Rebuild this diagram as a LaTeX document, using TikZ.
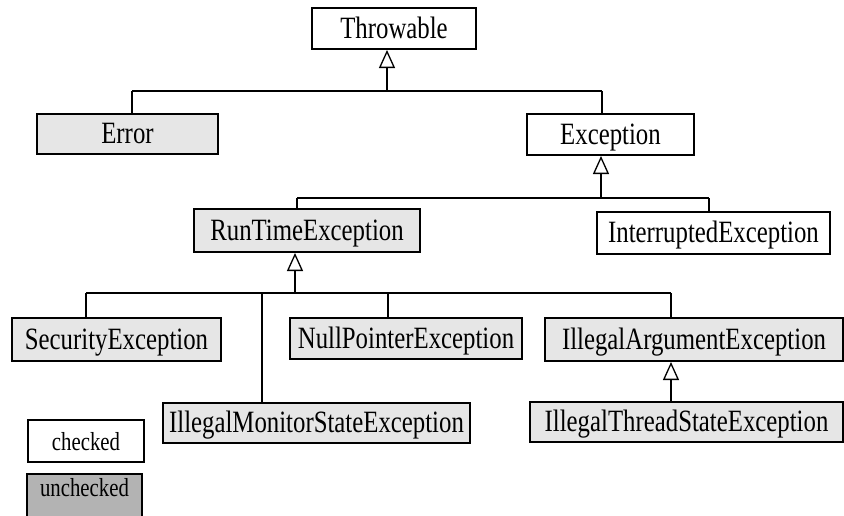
\documentclass[tikz,border=0pt]{standalone}
\usepackage{fontspec}
\setmainfont[FakeStretch=0.8]{Liberation Serif}
\usepackage{tikz}
\usetikzlibrary{arrows.meta}
\definecolor{lightgrey}{HTML}{E6E6E6}
\definecolor{midgrey}{HTML}{B3B3B3}
\tikzset{
  cls/.style = {rectangle, draw=black, line width=2pt, inner sep=0pt, text height=21pt, text depth=2pt, font=\fontsize{31}{34}\selectfont},
  cls_c/.style = {cls, fill=white},
  cls_u/.style = {cls, fill=lightgrey},
  key/.style = {rectangle, draw=black, line width=2pt, inner sep=0pt, text height=20pt, text depth=2pt, font=\fontsize{26}{29}\selectfont},
  link/.style = {line width=2pt},
  inherit/.style = {line width=2pt, -{Triangle[open, length=18pt, width=16pt, line width=1.3pt]}}
}

\begin{document}
\begin{tikzpicture}[x=1pt, y=-1pt]
    \useasboundingbox (0,0) rectangle (844,515);
    \clip (0,0) rectangle (844,515);
    \node[cls_c, minimum width=164pt, minimum height=41pt] (thr) at (394,28.5) {Throwable};
    \node[cls_u, minimum width=181pt, minimum height=40pt] (err) at (127.5,134) {Error};
    \node[cls_c, minimum width=167pt, minimum height=41pt] (exc) at (610.5,134.5) {Exception};
    \node[cls_u, minimum width=226pt, minimum height=43pt] (rte) at (307,230.5) {RunTimeException};
    \node[cls_c, minimum width=233pt, minimum height=42pt] (ie) at (713.5,233) {InterruptedException};
    \node[cls_u, minimum width=209pt, minimum height=43pt] (sec) at (116.5,339.5) {SecurityException};
    \node[cls_u, minimum width=232pt, minimum height=41pt] (npe) at (406,338.5) {NullPointerException};
    \node[cls_u, minimum width=298pt, minimum height=43pt] (iae) at (694,339.5) {IllegalArgumentException};
    \node[cls_u, minimum width=307pt, minimum height=40pt] (imse) at (316.5,423) {IllegalMonitorStateException};
    \node[cls_u, minimum width=313pt, minimum height=40pt] (itse) at (686.5,422) {IllegalThreadStateException};
    \node[key, fill=white, minimum width=116pt, minimum height=42pt] (chk) at (86,441) {checked};
    \node[key, fill=midgrey, minimum width=115pt, anchor=north, inner ysep=4pt, text height=18pt, text depth=30pt] (unchk) at (84.5,473) {unchecked};

    \coordinate (b1) at (387,91);
    \coordinate (b1w) at (132,91);
    \coordinate (b1e) at (602,91);
    \coordinate (b2) at (601,198);
    \coordinate (b2w) at (297,198);
    \coordinate (b2e) at (709,198);
    \coordinate (b3) at (295,293);
    \coordinate (b3w) at (86,293);
    \coordinate (b3m) at (262,293);
    \coordinate (b3n) at (388,293);
    \coordinate (b3e) at (671,293);

    \draw[link] (b1w) -- (b1e);
    \draw[link] (b1w) -- (b1w |- err.north);
    \draw[link] (b1e) -- (b1e |- exc.north);
    \draw[inherit] (b1) -- (b1 |- thr.south);

    \draw[link] (b2w) -- (b2e);
    \draw[link] (b2w) -- (b2w |- rte.north);
    \draw[link] (b2e) -- (b2e |- ie.north);
    \draw[inherit] (b2) -- (b2 |- exc.south);

    \draw[link] (b3w) -- (b3e);
    \draw[link] (b3w) -- (b3w |- sec.north);
    \draw[link] (b3m) -- (b3m |- imse.north);
    \draw[link] (b3n) -- (b3n |- npe.north);
    \draw[link] (b3e) -- (b3e |- iae.north);
    \draw[inherit] (b3) -- (b3 |- rte.south);

    \draw[inherit] (itse.north -| b3e) -- (iae.south -| b3e);
\end{tikzpicture}
\end{document}
